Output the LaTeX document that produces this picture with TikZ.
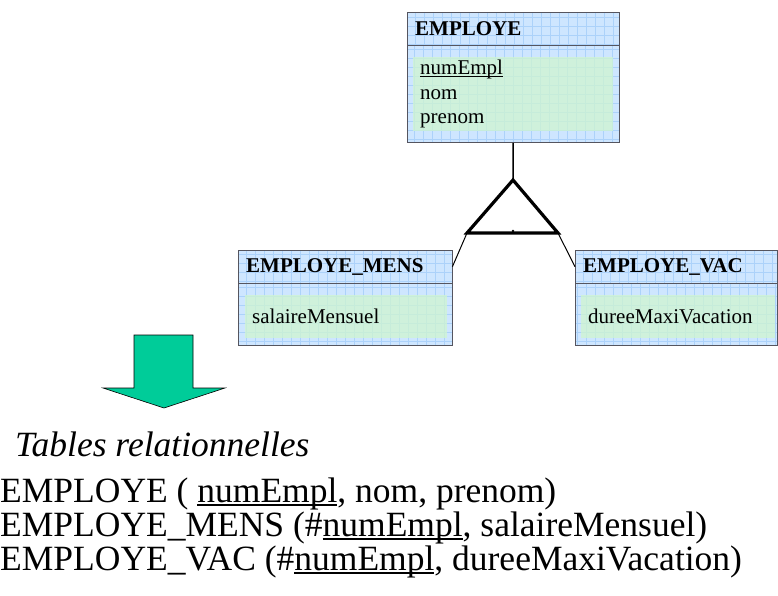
\documentclass[tikz,border=0pt]{standalone}
\usepackage{fontspec}
\setmainfont{Liberation Serif}
\usetikzlibrary{positioning}

\definecolor{fondbleu}{RGB}{206,230,255}
\definecolor{grillebleu}{RGB}{172,210,250}
\definecolor{fondvert}{RGB}{208,246,208}
\definecolor{flechevert}{RGB}{0,204,153}
\definecolor{bordgris}{RGB}{85,85,95}

% soulignement proche de la ligne de base
\newcommand{\souligne}[1]{\setbox0\hbox{#1}\rlap{\rule[-0.12em]{\wd0}{0.055em}}\box0}

\tikzset{
  quadrille/.style={fill=fondbleu,
    path picture={\draw[grillebleu, line width=0.5pt] (path picture bounding box.south west) grid[step=9pt] (path picture bounding box.north east);}},
  entete/.style={quadrille, draw=bordgris, rectangle, anchor=north west, minimum height=33pt,
    inner xsep=8pt, align=left, font=\fontsize{21}{24}\selectfont\bfseries},
  corps/.style={quadrille, draw=bordgris, rectangle, inner sep=0pt},
  attributs/.style={fill=fondvert, fill opacity=0.75, text opacity=1, rectangle, anchor=north west,
    inner xsep=7pt, align=left, font=\fontsize{21}{24.5}\selectfont},
  ligne/.style={anchor=base west, inner sep=0pt, font=\fontsize{35.5}{38}\selectfont},
}

\begin{document}
\begin{tikzpicture}[x=1pt,y=-1pt]
\useasboundingbox (0,0) rectangle (778,595);

% entite mere
\node[entete, text width=196pt] (employe) at (407,12) {EMPLOYE};
\node[corps, minimum width=212pt, minimum height=97pt, below=0pt of employe] (employeCorps) {};
\node[attributs, text width=186pt, minimum height=70pt] (employeAttr)
  at ([xshift=6pt,yshift=-11pt]employeCorps.north west) {\souligne{numEmpl}\\nom\\prenom};

% entites filles
\node[entete, text width=198pt] (employeMens) at (238,250) {EMPLOYE\_MENS};
\node[corps, minimum width=214pt, minimum height=62pt, below=0pt of employeMens] (mensCorps) {};
\node[attributs, text width=188pt, minimum height=43pt] (mensAttr)
  at ([xshift=7pt,yshift=-11pt]mensCorps.north west) {salaireMensuel};

\node[entete, text width=186pt] (employeVac) at (575,250) {EMPLOYE\_VAC};
\node[corps, minimum width=202pt, minimum height=62pt, below=0pt of employeVac] (vacCorps) {};
\node[attributs, text width=180pt, minimum height=43pt] (vacAttr)
  at ([xshift=6pt,yshift=-11pt]vacCorps.north west) {dureeMaxiVacation};

% specialisation
\coordinate (sommet) at (513,180);
\coordinate (baseG) at (467,233);
\coordinate (baseD) at (558,233);
\coordinate (milieu) at (513,231);
\draw[line width=1.5pt] (employeCorps.south) -- (sommet);
\draw[line width=3.2pt, line join=miter] (sommet) -- (baseG) -- (baseD) -- cycle;
\fill (milieu) circle (1.3pt);
\draw[line width=1pt] (baseG) -- (employeMens.east);
\draw[line width=1pt] (baseD) -- (employeVac.west);

% fleche
\filldraw[fill=flechevert, draw=black, line width=0.6pt]
  (134,335) -- (193,335) -- (193,388) -- (225,388) -- (164,408) -- (103,388) -- (134,388) -- cycle;

% tables
\node[ligne, font=\fontsize{35.5}{38}\selectfont\itshape] (titreTables) at (15,456) {Tables relationnelles};
\node[ligne] (tableEmploye) at (0,502) {EMPLOYE ( \souligne{numEmpl}, nom, prenom)};
\node[ligne] (tableMens) at (0,536) {EMPLOYE\_MENS (\#\souligne{numEmpl}, salaireMensuel)};
\node[ligne] (tableVac) at (0,570) {EMPLOYE\_VAC (\#\souligne{numEmpl}, dureeMaxiVacation)};
\end{tikzpicture}
\end{document}
